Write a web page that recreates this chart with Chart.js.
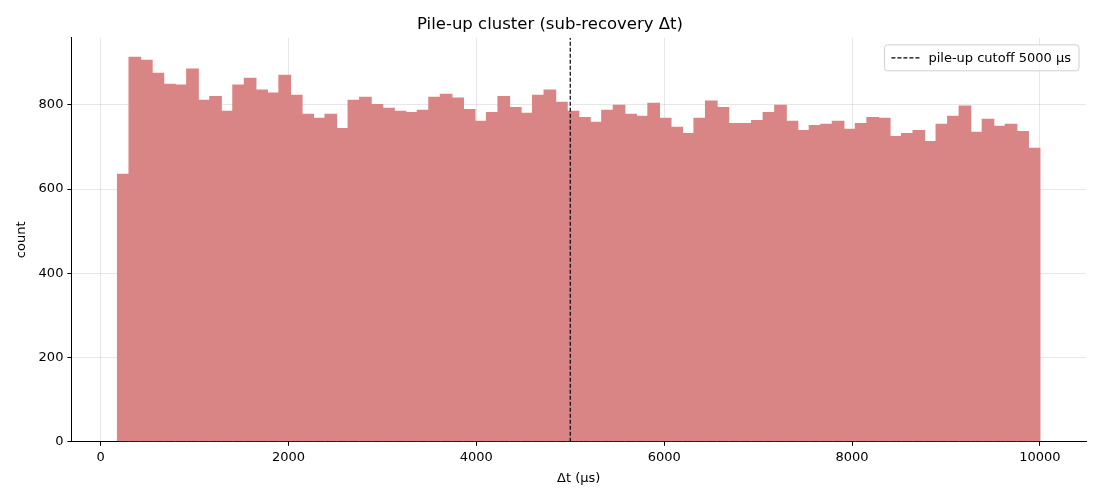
<!DOCTYPE html>
<html lang="en">
<head>
  <meta charset="UTF-8">
  <title>Pile-up cluster</title>
  <script src="https://cdn.jsdelivr.net/npm/chart.js"></script>
  <style>
    body { margin: 0; background: #fff; }
    canvas { display: block; }
  </style>
</head>
<body>
  <canvas id="hist" width="1100" height="500"></canvas>

  <script>
    // histogram bins: 80 bins from ~180 to 10000 µs
    const binStart = 180;
    const binWidth = 122.75;
    const counts = [
      636, 914, 907, 876, 850, 848, 886, 812, 821, 786,
      848, 864, 836, 829, 871, 824, 779, 769, 779, 745,
      812, 819, 802, 793, 786, 783, 788, 819, 826, 817,
      790, 762, 783, 821, 795, 781, 824, 836, 807, 786,
      771, 760, 788, 800, 779, 774, 805, 769, 748, 733,
      769, 810, 795, 757, 757, 764, 783, 800, 762, 740,
      752, 755, 762, 743, 757, 771, 769, 726, 733, 740,
      714, 755, 774, 798, 736, 767, 750, 755, 738, 698
    ];
    const cutoff = 5000;
    const cutoffLabel = "pile-up cutoff 5000 μs";
    const xTicks = [0, 2000, 4000, 6000, 8000, 10000];
    const yTicks = [0, 200, 400, 600, 800];
    const xRange = [-311, 10491];
    const yRange = [0, 959];

    const font = "'DejaVu Sans', sans-serif";
    const gridColor = "rgba(176,176,176,0.3)";

    const barData = counts.map((c, i) => ({ x: binStart + (i + 0.5) * binWidth, y: c }));
    const cutoffData = [{ x: cutoff, y: yRange[0] }, { x: cutoff, y: yRange[1] }];

    // legend inside the axes, upper right, like matplotlib
    const innerLegend = {
      id: "innerLegend",
      afterDraw(chart) {
        const ctx = chart.ctx;
        const area = chart.chartArea;
        ctx.save();
        ctx.font = "13px " + font;
        const tw = ctx.measureText(cutoffLabel).width;
        const w = tw + 52, h = 26;
        const x = area.right - 7 - w, y = area.top + 7;
        ctx.beginPath();
        ctx.roundRect(x, y, w, h, 3);
        ctx.fillStyle = "rgba(255,255,255,0.8)";
        ctx.fill();
        ctx.strokeStyle = "#d0d0d0";
        ctx.lineWidth = 1;
        ctx.stroke();
        ctx.beginPath();
        ctx.setLineDash([4, 2]);
        ctx.strokeStyle = "#000";
        ctx.lineWidth = 1.2;
        ctx.moveTo(x + 7, y + h / 2);
        ctx.lineTo(x + 36, y + h / 2);
        ctx.stroke();
        ctx.setLineDash([]);
        ctx.fillStyle = "#000";
        ctx.textBaseline = "middle";
        ctx.fillText(cutoffLabel, x + 44, y + h / 2 + 1);
        ctx.restore();
      }
    };

    new Chart(document.getElementById("hist"), {
      type: "bar",
      data: {
        datasets: [
          {
            type: "line",
            label: cutoffLabel,
            data: cutoffData,
            borderColor: "#000",
            borderWidth: 1.2,
            borderDash: [4, 2],
            pointRadius: 0,
            fill: false
          },
          {
            label: "counts",
            data: barData,
            backgroundColor: "#d98585",
            borderWidth: 0,
            barPercentage: 1.1,
            categoryPercentage: 1.0,
            grouped: false
          }
        ]
      },
      options: {
        responsive: false,
        animation: false,
        devicePixelRatio: 1,
        layout: { padding: { left: 14, right: 14, top: 7, bottom: 14 } },
        plugins: {
          legend: { display: false },
          tooltip: { enabled: false },
          title: {
            display: true,
            text: "Pile-up cluster (sub-recovery Δt)",
            color: "#000",
            font: { family: font, size: 16.5, weight: "normal" },
            padding: { top: 8, bottom: 3 }
          }
        },
        scales: {
          x: {
            type: "linear",
            offset: false,
            min: xRange[0],
            max: xRange[1],
            afterBuildTicks(scale) { scale.ticks = xTicks.map(v => ({ value: v })); },
            ticks: { color: "#000", font: { family: font, size: 13 }, padding: 4, maxRotation: 0,
                     callback: v => String(v) },
            grid: { color: gridColor, tickColor: "#000", tickLength: 4, offset: false },
            border: { display: true, color: "#000", width: 1 },
            title: {
              display: true,
              text: "Δt (μs)",
              color: "#000",
              font: { family: font, size: 13 },
              padding: { top: 1, bottom: 0 }
            }
          },
          y: {
            min: yRange[0],
            max: yRange[1],
            afterBuildTicks(scale) { scale.ticks = yTicks.map(v => ({ value: v })); },
            ticks: { color: "#000", font: { family: font, size: 13 }, padding: 4 },
            grid: { color: gridColor, tickColor: "#000", tickLength: 4 },
            border: { display: true, color: "#000", width: 1 },
            title: {
              display: true,
              text: "count",
              color: "#000",
              font: { family: font, size: 13 },
              padding: { top: 0, bottom: 5 }
            }
          }
        }
      },
      plugins: [innerLegend]
    });
  </script>
</body>
</html>
